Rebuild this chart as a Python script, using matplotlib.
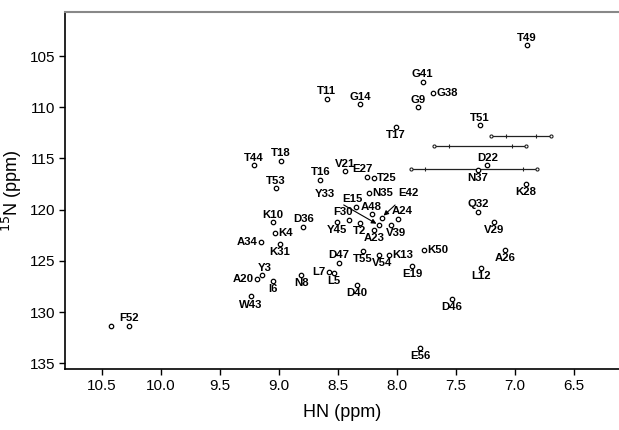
import matplotlib.pyplot as plt
import numpy as np

plt.rcParams['font.family'] = ['Liberation Sans', 'DejaVu Sans']

# peak assignments: residue, HN (ppm), 15N (ppm)
residues = ["T49", "G41", "G38", "G9", "G14", "T11", "T17", "T51", "T44", "T18",
            "T53", "T16", "V21", "E27", "T25", "D22", "N37", "K28", "N35", "E15",
            "A48", "E42", "A24", "F30", "Y45", "T2", "Y33", "V39", "A23", "D36",
            "K10", "K4", "A34", "K31", "Q32", "V29", "K50", "A26", "D47", "T55",
            "V54", "K13", "E19", "L12", "L7", "L5", "N8", "Y3", "A20", "I6",
            "D40", "W43", "D46", "E56", "F52"]
hn = [6.901, 7.782, 7.692, 7.819, 8.311, 8.593, 8.011, 7.297, 9.209, 8.983,
      9.025, 8.647, 8.438, 8.254, 8.192, 7.235, 7.314, 6.909, 8.235, 8.347,
      8.214, 8.130, 7.989, 8.404, 8.511, 8.314, 8.153, 8.053, 8.195, 8.791,
      9.053, 9.034, 9.153, 8.992, 7.311, 7.175, 7.769, 7.085, 8.489, 8.286,
      8.150, 8.065, 7.873, 7.288, 8.576, 8.536, 8.808, 9.138, 9.184, 9.053,
      8.336, 9.235, 7.536, 7.805, 10.271]
n15 = [103.96, 107.53, 108.60, 110.02, 109.73, 109.15, 111.97, 111.78, 115.64, 115.22,
       117.91, 117.10, 116.23, 116.81, 116.91, 115.64, 116.13, 117.49, 118.34, 119.70,
       120.44, 120.77, 120.90, 121.00, 121.22, 121.32, 121.51, 121.48, 121.97, 121.65,
       121.22, 122.29, 123.14, 123.36, 120.19, 121.22, 123.92, 123.99, 125.21, 124.08,
       124.41, 124.41, 125.55, 125.70, 126.13, 126.19, 126.35, 126.35, 126.74, 126.94,
       127.33, 128.40, 128.72, 133.49, 131.32]

# unassigned extra peak next to F52
extra_hn = [10.424]
extra_n15 = [131.39]

# horizontal multiplet traces: y, x ends, inner marks
trace_n15 = [112.82, 113.82, 116.06]
trace_ends = [(7.206, 6.697), (7.684, 6.907), (7.881, 6.816)]
trace_marks = [(7.076, 6.822), (7.557, 7.028), (7.763, 6.935)]

# label offsets in pixels (dx, dy), default is above the peak
below = ["T17", "N37", "K28", "Y45", "T2", "A23", "K31", "V29", "A26", "T55",
         "E19", "L12", "L5", "N8", "I6", "D40", "W43", "D46", "E56"]
offsets = {"E27": (-4, 8), "A24": (4, 8), "F30": (-6, 8), "E15": (-3, 8),
           "V39": (5, -8), "V54": (3, -8), "Y3": (2, 7), "W43": (0, -9)}
right_side = ["G38", "T25", "N35", "K4", "K50", "K13"]
left_side = ["A34", "A20", "L7"]
arrows = {"Y33": (-54, 31), "E42": (27, 25)}

fig = plt.figure(figsize=(6.19, 4.30), dpi=100)
ax = fig.add_axes([0.105, 0.141, 0.895, 0.831])

for y, (x0, x1), (m0, m1) in zip(trace_n15, trace_ends, trace_marks):
    ax.plot([x0, x1], [y, y], color='#222222', lw=0.9, zorder=2)
    ax.plot([x0, x1], [y, y], 'o', ms=2.2, color='#222222', mfc='white', mew=0.8, zorder=3)
    ax.plot([m0, m1], [y, y], '|', ms=3, color='#222222', mew=0.8, zorder=3)

ax.plot(hn, n15, 'o', ms=3.2, mfc='white', mec='black', mew=0.9, zorder=4)
ax.plot(extra_hn, extra_n15, 'o', ms=3.2, mfc='white', mec='black', mew=0.9, zorder=4)

px = 72.0 / 100  # points per pixel
for name, x, y in zip(residues, hn, n15):
    kw = dict(fontsize=8.2, fontweight='bold', textcoords='offset points', zorder=5)
    if name in arrows:
        dx, dy = arrows[name]
        ax.annotate(name, (x, y), xytext=(dx * px, dy * px), ha='center', va='center',
                    arrowprops=dict(arrowstyle='-|>', color='black', lw=0.8,
                                    mutation_scale=7, shrinkA=5, shrinkB=2), **kw)
    elif name in right_side:
        ax.annotate(name, (x, y), xytext=(3 * px, 0), ha='left', va='center', **kw)
    elif name in left_side:
        ax.annotate(name, (x, y), xytext=(-3 * px, 0), ha='right', va='center', **kw)
    else:
        if name in offsets:
            dx, dy = offsets[name]
        elif name in below:
            dx, dy = 0, -8
        else:
            dx, dy = 0, 7.5
        ax.annotate(name, (x, y), xytext=(dx * px, dy * px), ha='center', va='center', **kw)

ax.set_xlim(10.81, 6.12)
ax.set_ylim(135.6, 100.7)
ax.set_xticks([10.5, 10.0, 9.5, 9.0, 8.5, 8.0, 7.5, 7.0, 6.5])
ax.set_xticklabels(["10.5", "10.0", "9.5", "9.0", "8.5", "8.0", "7.5", "7.0", "6.5"])
ax.set_yticks([105, 110, 115, 120, 125, 130, 135])
ax.tick_params(direction='out', length=4, width=1, labelsize=11, pad=3)
ax.spines['right'].set_visible(False)
ax.spines['top'].set_color('#888888')
ax.spines['top'].set_linewidth(1.5)
ax.spines['left'].set_linewidth(1.2)
ax.spines['bottom'].set_linewidth(1.2)
ax.set_xlabel("HN (ppm)", fontsize=13, labelpad=8)
ax.set_ylabel("$^{15}$N (ppm)", fontsize=13, labelpad=4)

fig.savefig("out.png", dpi=100)
